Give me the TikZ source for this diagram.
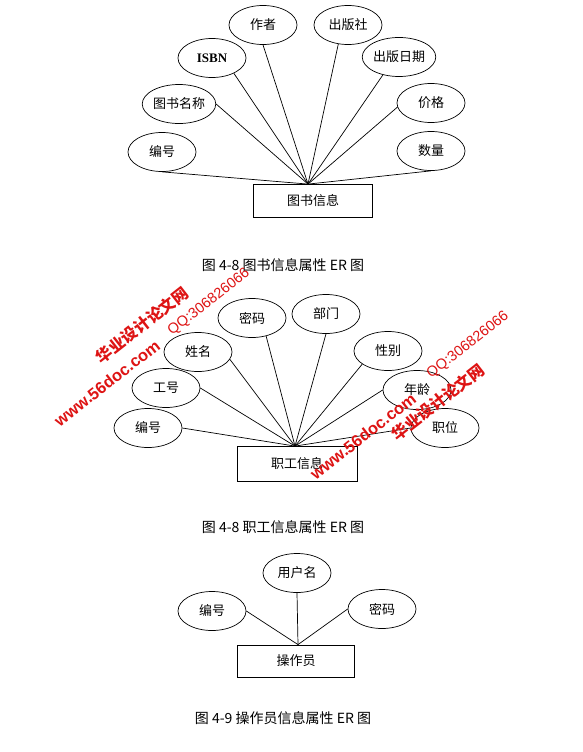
\documentclass[tikz,border=0pt]{standalone}
\usepackage{fontspec}
\setmainfont{Liberation Serif}
\newfontfamily\cjk{Noto Sans CJK SC}
\newfontfamily\wmfont{Liberation Sans}
\usetikzlibrary{shapes.geometric}
\definecolor{wmred}{RGB}{222,20,20}

\begin{document}
\begin{tikzpicture}[x=1pt, y=-1pt,
    attr/.style={draw, ellipse, line width=0.7pt, minimum width=68pt, minimum height=39pt,
                 inner sep=0pt, font=\cjk\fontsize{13}{15}\selectfont},
    entity/.style={draw, rectangle, line width=0.8pt, minimum width=119pt, minimum height=33pt,
                   font=\cjk\fontsize{13}{15}\selectfont},
    link/.style={line width=0.7pt},
    caption/.style={font=\cjk\fontsize{14}{16}\selectfont},
    wmcn/.style={wmred, rotate=38, font=\cjk\bfseries\fontsize{16}{18}\selectfont},
    wmen/.style={wmred, rotate=38, font=\wmfont\bfseries\fontsize{16.5}{18}\selectfont},
    wmqq/.style={wmred, rotate=38, font=\wmfont\fontsize{14.5}{16}\selectfont}]
    \useasboundingbox[fill=white] (0,0) rectangle (583,752);

    % Book info
    \node[entity] (tsxx) at (313,201) {图书信息};
    \coordinate (h1) at ([xshift=-5pt]tsxx.north);
    \node[attr] (bianhao1) at (162,152) {编号};
    \node[attr] (tsmc) at (179,104) {图书名称};
    \node[attr] (isbn) at (212,58) {\fontspec{Liberation Serif}\bfseries ISBN};
    \node[attr] (zuozhe) at (263,25) {作者};
    \node[attr] (cbs) at (348,25) {出版社};
    \node[attr] (cbrq) at (399,57) {出版日期};
    \node[attr] (jiage) at (431,103) {价格};
    \node[attr] (shuliang) at (431,151) {数量};
    \draw[link] (bianhao1.south) -- (h1);
    \draw[link] (tsmc.east) -- (h1);
    \draw[link] (isbn.-35) -- (h1);
    \draw[link] (zuozhe.south) -- (h1);
    \draw[link] (cbs.-117) -- (h1);
    \draw[link] (cbrq.-132) -- (h1);
    \draw[link] (jiage.-173) -- (h1);
    \draw[link] (shuliang.south) -- (h1);
    \node[caption] (cap1) at (283,265) {图 4-8 图书信息属性 ER 图};

    % Staff info
    \node[entity, minimum width=120pt, minimum height=35pt] (zgxx) at (297,464) {职工信息};
    \coordinate (h2) at ([xshift=-2pt]zgxx.north);
    \node[attr] (bianhao2) at (148,428) {编号};
    \node[attr] (gonghao) at (166,388) {工号};
    \node[attr] (xingming) at (198,352) {姓名};
    \node[attr] (mima2) at (252,318) {密码};
    \node[attr] (bumen) at (326,314) {部门};
    \node[attr] (xingbie) at (388,351) {性别};
    \node[attr] (nianling) at (417,390) {年龄};
    \node[attr] (zhiwei) at (445,428) {职位};
    \draw[link] (bianhao2.east) -- (h2);
    \draw[link] (gonghao.east) -- (h2);
    \draw[link] (xingming.-13) -- (h2);
    \draw[link] (mima2.-52) -- (h2);
    \draw[link] (bumen.south) -- (h2);
    \draw[link] (xingbie.-153) -- (h2);
    \draw[link] (nianling.west) -- (h2);
    \draw[link] (zhiwei.west) -- (h2);
    \node[caption] (cap2) at (283,527) {图 4-8 职工信息属性 ER 图};

    % Operator
    \node[entity, minimum width=117pt, minimum height=32pt] (czy) at (296,661) {操作员};
    \coordinate (h3) at ([xshift=2pt]czy.north);
    \node[attr] (yhm) at (297,573) {用户名};
    \node[attr] (bianhao3) at (212,611) {编号};
    \node[attr] (mima3) at (382,609) {密码};
    \draw[link] (yhm.south) -- (h3);
    \draw[link] (bianhao3.east) -- (h3);
    \draw[link] (mima3.west) -- (h3);
    \node[caption] (cap3) at (283,718) {图 4-9 操作员信息属性 ER 图};

    % Watermark
    \node[wmcn] (wm1) at (142,325) {华业设计论文网};
    \node[wmen] (wm2) at (107,383) {www.56doc.com};
    \node[wmqq] (wm3) at (209,302) {QQ:306826066};
    \node[wmcn] (wm4) at (438,402) {华业设计论文网};
    \node[wmen] (wm5) at (363,436) {www.56doc.com};
    \node[wmqq] (wm6) at (468,345) {QQ:306826066};
\end{tikzpicture}
\end{document}
